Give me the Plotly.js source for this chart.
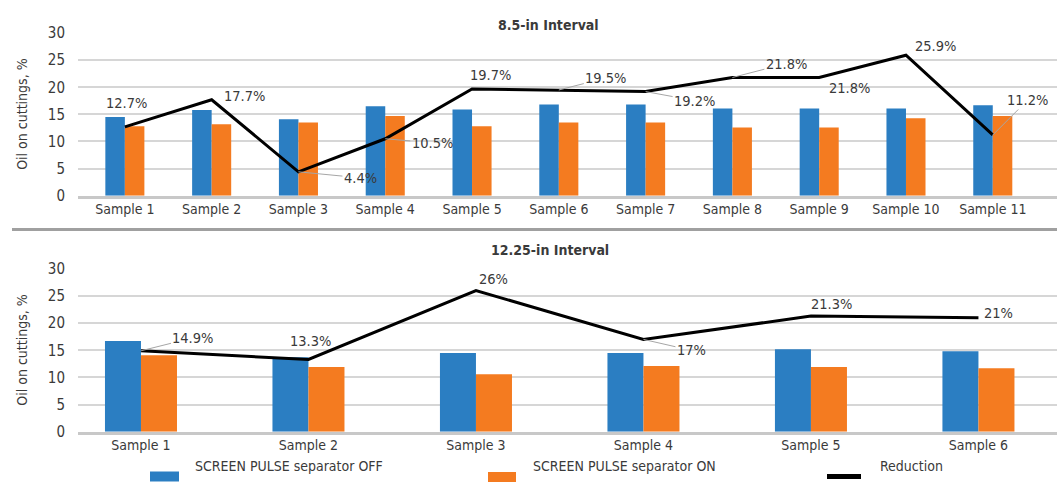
<!DOCTYPE html>
<html>
<head>
<meta charset="utf-8">
<script src="https://cdn.plot.ly/plotly-3.0.1.min.js"></script>
<style>html,body{margin:0;padding:0;background:#fff;}#chart{width:1064px;height:486px;}</style>
</head>
<body>
<div id="chart"></div>
<script>
// ---- data ----
const topCategories = ['Sample 1','Sample 2','Sample 3','Sample 4','Sample 5','Sample 6','Sample 7','Sample 8','Sample 9','Sample 10','Sample 11'];
const topOff = [14.5, 15.8, 14.1, 16.5, 15.9, 16.8, 16.8, 16.1, 16.1, 16.1, 16.7];
const topOn = [12.8, 13.2, 13.5, 14.7, 12.8, 13.5, 13.5, 12.6, 12.6, 14.3, 14.7];
const topReduction = [12.7, 17.7, 4.4, 10.5, 19.7, 19.5, 19.2, 21.8, 21.8, 25.9, 11.2];

const botCategories = ['Sample 1','Sample 2','Sample 3','Sample 4','Sample 5','Sample 6'];
const botOff = [16.7, 13.7, 14.5, 14.5, 15.2, 14.8];
const botOn = [14.1, 11.9, 10.6, 12.1, 11.9, 11.7];
const botReduction = [14.9, 13.3, 26, 17, 21.3, 21];

const seriesNames = ['SCREEN PULSE separator OFF', 'SCREEN PULSE separator ON', 'Reduction'];
const panelTitles = ['8.5-in Interval', '12.25-in Interval'];
const yTitle = 'Oil on cuttings, %';
const yTicks = [0, 5, 10, 15, 20, 25, 30];

// ---- styles / label placement (pixel offsets: [dx, dy, leader]) ----
const FONT = '"Liberation Sans Narrow", "DejaVu Sans Condensed", "Arial Narrow", sans-serif';
const TXT = '#3a3a3a';
const BLUE = '#2b7ec2';
const ORANGE = '#f47b20';
const topLabelPos = [[2,-24,0],[33,-4,0],[62,6,1],[47,4,1],[18,-14,0],[47,-12,1],[49,9,1],[54,-14,1],[30,10,0],[30,-9,0],[35,-35,1]];
const botLabelPos = [[52,-13,1],[2,-19,0],[18,-12,0],[48,11,1],[21,-12,0],[20,-5,0]];

const W = 1064, H = 486;
const px = x => x / W;
const py = y => 1 - y / H;

function bars(cats, off, on, w, xa, ya) {
  return [
    {type:'bar', x:cats, y:off, name:seriesNames[0], marker:{color:BLUE}, width:w, offset:-w, xaxis:xa, yaxis:ya, showlegend:false, hoverinfo:'x+y'},
    {type:'bar', x:cats, y:on, name:seriesNames[1], marker:{color:ORANGE}, width:w, offset:0, xaxis:xa, yaxis:ya, showlegend:false, hoverinfo:'x+y'}
  ];
}
function line(cats, red, xa, ya) {
  return {type:'scatter', mode:'lines', x:cats, y:red, name:seriesNames[2], line:{color:'#000', width:3}, xaxis:xa, yaxis:ya, showlegend:false, hoverinfo:'x+y'};
}

const data = [
  ...bars(topCategories, topOff, topOn, 0.225, 'x', 'y'),
  line(topCategories, topReduction, 'x', 'y'),
  ...bars(botCategories, botOff, botOn, 0.215, 'x2', 'y2'),
  line(botCategories, botReduction, 'x2', 'y2')
];

const labelFont = {family:FONT, size:14.5, color:TXT};
function labels(cats, red, pos, xref, yref) {
  return red.map((v, i) => {
    const [dx, dy, leader] = pos[i];
    const a = {x:cats[i], y:v, xref:xref, yref:yref, text:v + '%', font:labelFont};
    if (leader) {
      Object.assign(a, {showarrow:true, arrowhead:0, arrowwidth:1, arrowcolor:'#a6a6a6', ax:dx, ay:dy, standoff:0, startstandoff:0});
    } else {
      Object.assign(a, {showarrow:false, xshift:dx, yshift:-dy});
    }
    return a;
  });
}

const xFont = {family:FONT, size:14, color:TXT};
const yFont = {family:FONT, size:15, color:TXT};
function xAxis(domain, range, anchor) {
  return {domain:domain, range:range, anchor:anchor, type:'category', showgrid:false, showline:true, linecolor:'#c8c8c8', linewidth:3,
          ticks:'', tickfont:xFont, ticklabelstandoff:-2, fixedrange:true};
}
function yAxis(domain, anchor) {
  return {domain:domain, range:[0, 30.1], anchor:anchor, tickvals:yTicks, showgrid:true, gridcolor:'#d6d6d6', gridwidth:2,
          zeroline:false, showline:false, ticks:'', tickfont:yFont, ticklabelstandoff:12,
          title:{text:yTitle, font:{family:FONT, size:14, color:TXT}, standoff:16}, fixedrange:true};
}

const annotations = [
  ...labels(topCategories, topReduction, topLabelPos, 'x', 'y'),
  ...labels(botCategories, botReduction, botLabelPos, 'x2', 'y2'),
  {xref:'paper', yref:'paper', x:px(548), y:py(15), text:'<b>' + panelTitles[0] + '</b>', showarrow:false, font:{family:FONT, size:14, color:TXT}},
  {xref:'paper', yref:'paper', x:px(550), y:py(250), text:'<b>' + panelTitles[1] + '</b>', showarrow:false, font:{family:FONT, size:14, color:TXT}},
  {xref:'paper', yref:'paper', x:px(193), y:py(476), xanchor:'left', text:seriesNames[0], showarrow:false, font:xFont},
  {xref:'paper', yref:'paper', x:px(531), y:py(476), xanchor:'left', text:seriesNames[1], showarrow:false, font:xFont},
  {xref:'paper', yref:'paper', x:px(878), y:py(476), xanchor:'left', text:seriesNames[2], showarrow:false, font:xFont}
];

const shapes = [
  {type:'line', xref:'paper', yref:'paper', x0:px(12), x1:px(1057), y0:py(229.5), y1:py(229.5), line:{color:'#a0a0a0', width:3}},
  {type:'rect', xref:'paper', yref:'paper', x0:px(150), x1:px(179), y0:py(481.5), y1:py(471.5), fillcolor:BLUE, line:{width:0}},
  {type:'rect', xref:'paper', yref:'paper', x0:px(488), x1:px(516), y0:py(482), y1:py(472), fillcolor:ORANGE, line:{width:0}},
  {type:'line', xref:'paper', yref:'paper', x0:px(827), x1:px(861), y0:py(476.5), y1:py(476.5), line:{color:'#000', width:5}}
];

const layout = {
  width:W, height:H, margin:{l:0, r:0, t:0, b:0},
  paper_bgcolor:'#fff', plot_bgcolor:'rgba(0,0,0,0)',
  barmode:'overlay', showlegend:false,
  font:{family:FONT, color:TXT},
  xaxis: xAxis([px(78), px(1057)], [-0.54, 10.74], 'y'),
  yaxis: yAxis([py(195.7), py(32.5)], 'x'),
  xaxis2: xAxis([px(78), px(1057)], [-0.376, 5.469], 'y2'),
  yaxis2: yAxis([py(431.7), py(268.3)], 'x2'),
  annotations: annotations,
  shapes: shapes
};

Plotly.newPlot('chart', data, layout, {displayModeBar:false, staticPlot:true});
</script>
</body>
</html>
